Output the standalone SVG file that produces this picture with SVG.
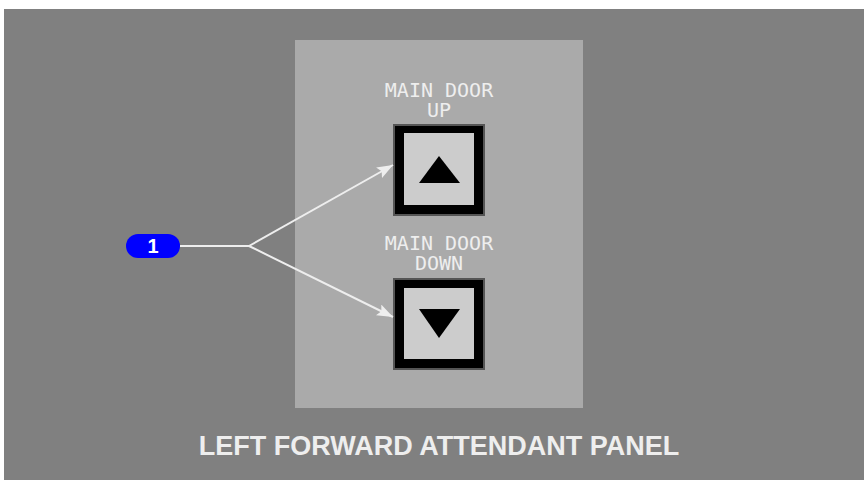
<svg xmlns="http://www.w3.org/2000/svg" width="864" height="480" viewBox="0 0 864 480">
<defs>
<style>
.lbl{font-family:"DejaVu Sans Mono",monospace;font-size:20px;fill:#eeeeee;text-anchor:middle}
.btn{fill:#000;stroke:#555;stroke-width:2}
.face{fill:#cccccc}
.conn{stroke:#eeeeee;stroke-width:2;fill:none}
</style>
<marker id="ah" markerWidth="16" markerHeight="12" refX="16" refY="6" orient="auto" markerUnits="userSpaceOnUse">
<path d="M0,0 L16,6 L0,12 L3,6 Z" fill="#eeeeee"/>
</marker>
</defs>
<rect x="0" y="0" width="864" height="480" fill="#ffffff"/>
<rect x="4" y="9" width="860" height="471" fill="#808080"/>
<rect x="295" y="40" width="288" height="368" fill="#aaaaaa"/>
<g id="btn-up">
<text class="lbl" x="439" y="97">MAIN DOOR</text>
<text class="lbl" x="439" y="117">UP</text>
<rect class="btn" x="394" y="125" width="90" height="90"/>
<rect class="face" x="404" y="133" width="70" height="72"/>
<polygon points="439,156 419,183 460,183" fill="#000"/>
</g>
<g id="btn-down">
<text class="lbl" x="439" y="250">MAIN DOOR</text>
<text class="lbl" x="439" y="270">DOWN</text>
<rect class="btn" x="394" y="279" width="90" height="90"/>
<rect class="face" x="404" y="288" width="70" height="71"/>
<polygon points="419,309 460,309 439,338" fill="#000"/>
</g>
<g id="badge1">
<rect x="126" y="234" width="54" height="24" rx="12" fill="#0000ff"/>
<text x="153" y="253" font-family="'Liberation Sans',Arial,sans-serif" font-weight="bold" font-size="20" fill="#ffffff" text-anchor="middle">1</text>
</g>
<g id="connectors">
<path class="conn" d="M180,246 L249,246"/>
<path class="conn" d="M249,246 L393,165" marker-end="url(#ah)"/>
<path class="conn" d="M249,246 L393,317" marker-end="url(#ah)"/>
</g>
<text x="439" y="455" font-family="'Liberation Sans',Arial,sans-serif" font-weight="bold" font-size="27" fill="#eeeeee" text-anchor="middle">LEFT FORWARD ATTENDANT PANEL</text>
</svg>
